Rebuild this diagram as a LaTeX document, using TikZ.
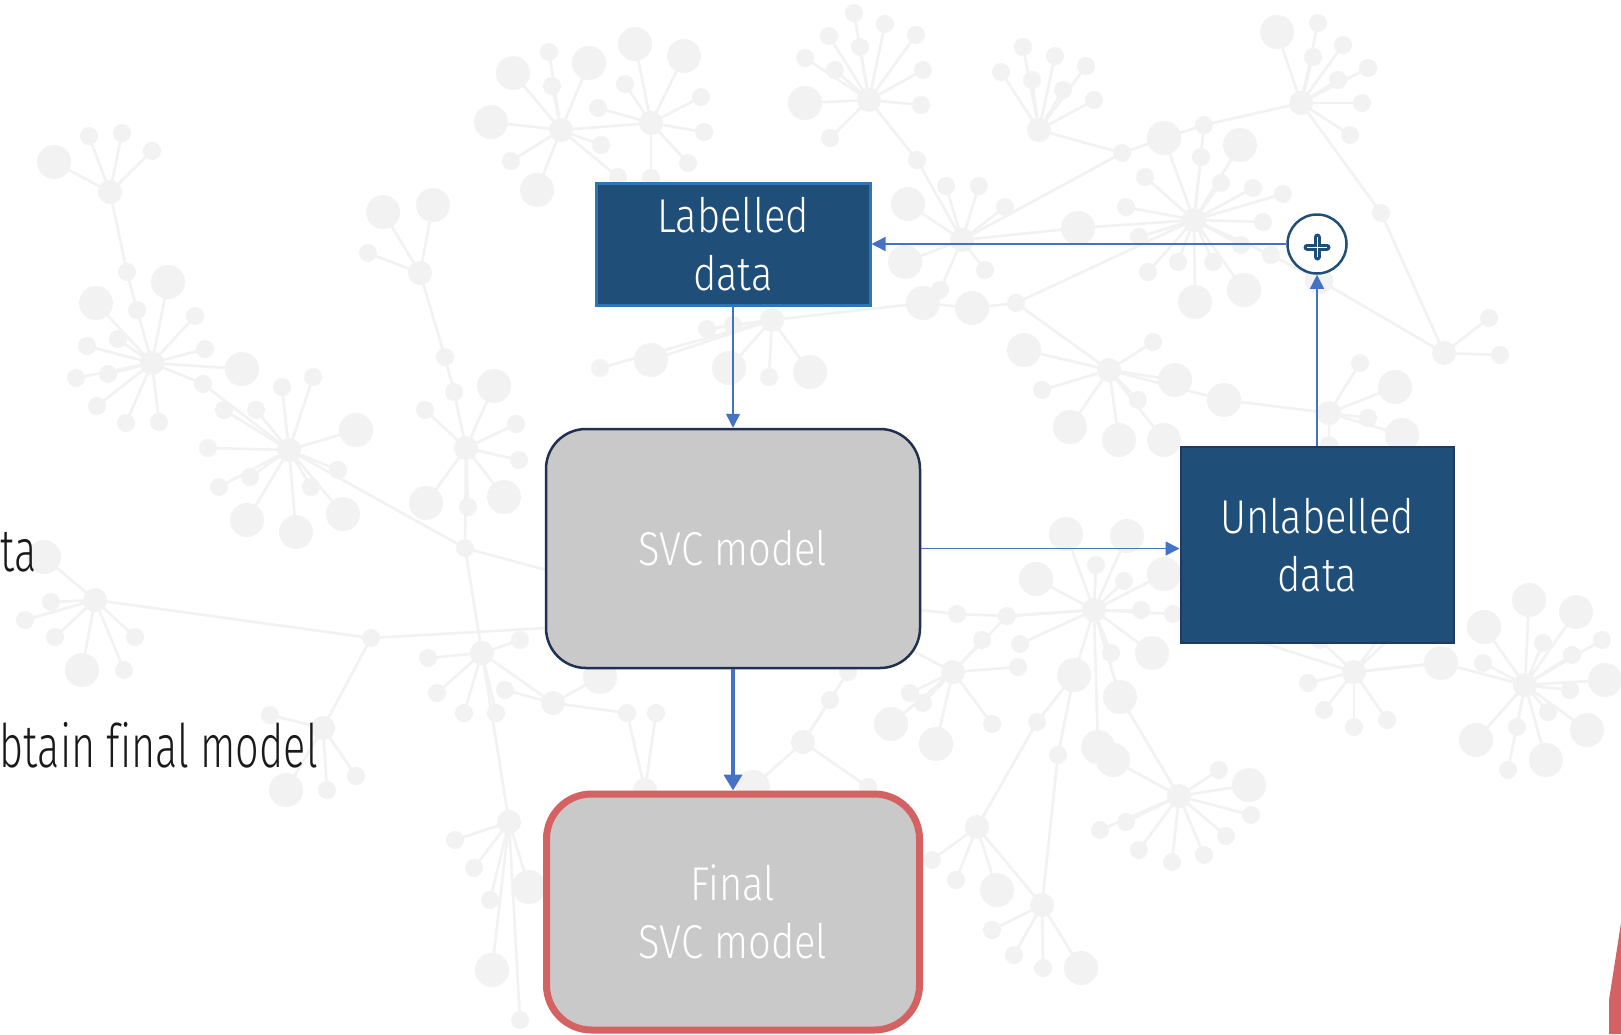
\documentclass[tikz,border=0pt]{standalone}
\usepackage{fontspec}
\setmainfont{Fira Sans Light}[FakeStretch=0.84]
\newfontfamily\narrowfamily{Fira Sans Light}[FakeStretch=0.69, Ligatures=NoCommon]
\usetikzlibrary{arrows.meta}

\definecolor{bggray}{HTML}{F2F2F2}
\definecolor{navyfill}{HTML}{1F4E79}
\definecolor{labborder}{HTML}{2E75B6}
\definecolor{unlborder}{HTML}{1F3864}
\definecolor{boxgray}{HTML}{C9C9C9}
\definecolor{svcborder}{HTML}{1F3050}
\definecolor{finalborder}{HTML}{D46262}
\definecolor{arrowblue}{HTML}{4472C4}
\definecolor{bodytext}{HTML}{1A1A1A}

\newcommand\boxfont{\fontsize{47.5}{58}\selectfont}
\newcommand\bodyfont{\narrowfamily\fontsize{60}{72}\selectfont}

% a hub of the network pattern with its spokes and end dots
\newcommand\bghub[2]{%
  \foreach \px/\py/\pr in {#2}{%
    \draw[bgline] (#1) -- (\px,\py);
    \fill[bgdot] (\px,\py) circle (\pr);
  }%
  \fill[bgdot] (#1) circle (12);
}
\newcommand\bgdots[1]{%
  \foreach \px/\py/\pr in {#1}{\fill[bgdot] (\px,\py) circle (\pr);}%
}

\tikzset{
  bgline/.style={draw=bggray, line width=2.6pt},
  bgdot/.style={fill=bggray},
  databox/.style={rectangle, fill=navyfill, text=white, inner sep=0pt,
    align=center, font=\boxfont},
  modelbox/.style={rectangle, fill=boxgray, text=white, inner sep=0pt,
    align=center, font=\boxfont},
  thinarrow/.style={draw=arrowblue, line width=1.4pt,
    -{Triangle[width=14pt,length=14pt]}, arrowblue},
  thickarrow/.style={draw=arrowblue, line width=4.5pt,
    -{Triangle[width=18pt,length=16pt]}, arrowblue},
  bodytextstyle/.style={text=bodytext, font=\bodyfont, inner sep=0pt, anchor=base east}
}

\begin{document}
\begin{tikzpicture}[x=1pt, y=-1pt]
\useasboundingbox (0,0) rectangle (1621,1034);
\clip (0,0) rectangle (1621,1034);
\fill[white] (0,0) rectangle (1621,1034);

% ---------- faint network pattern ----------
\draw[bgline] (110,192) -- (127,272) -- (137,310) -- (152,363) -- (203,384) -- (289,450) -- (465,548) -- (546,570);
\draw[bgline] (420,273) -- (445,357) -- (454,392) -- (466,448) -- (465,548) -- (482,653) -- (509,822);
\draw[bgline] (95,600) -- (371,638) -- (546,628);
\draw[bgline] (371,638) -- (323,728);
\draw[bgline] (561,130) -- (651,123);
\draw[bgline] (869,100) -- (917,160) -- (962,240);
\draw[bgline] (772,320) -- (923,303) -- (972,308) -- (1016,303) -- (1109,370);
\draw[bgline] (1016,303) -- (1194,220);
\draw[bgline] (962,240) -- (1122,153) -- (1164,138) -- (1204,125) -- (1301,103);
\draw[bgline] (1039,130) -- (1122,153);
\draw[bgline] (962,240) -- (1078,228);
\draw[bgline] (1301,103) -- (1381,213) -- (1444,353);
\draw[bgline] (1271,255) -- (1319,280) -- (1444,353);
\draw[bgline] (1224,400) -- (1329,413);
\draw[bgline] (920,610) -- (957,614) -- (1007,616) -- (1094,610);
\draw[bgline] (953,672) -- (1007,616);
\draw[bgline] (1094,610) -- (1120,697) -- (1179,796);
\draw[bgline] (1354,672) -- (1441,663) -- (1525,685);
\draw[bgline] (1354,672) -- (1173,614);
\draw[bgline] (977,827) -- (1042,905);
\draw[bgline] (1042,905) -- (1058,755) -- (1074,675);
\draw[bgline] (977,827) -- (1037,722) -- (1074,675);
\draw[bgline] (553,703) -- (482,653);
\draw[bgline] (803,742) -- (848,672) -- (890,600);
\bgdots{127/272/9, 137/310/9, 203/384/9, 445/357/9, 454/392/9, 465/548/9,
  371/638/9, 917/160/9, 923/303/17, 972/308/17, 1016/303/9, 1122/153/9,
  1381/213/9, 1319/280/14, 957/614/9, 1037/722/9, 1058/755/9, 848/672/9}

\bghub{110,192}{54/162/17, 89/136/9, 122/133/9, 152/151/9}
\bghub{152,363}{96/303/17, 168/282/17, 195/316/9, 205/349/9, 242/369/17, 87/346/9, 76/378/9, 97/406/9, 126/423/9, 159/422/9, 118/339/9, 108/374/9}
\bghub{289,450}{247/520/17, 296/532/17, 343/514/17, 356/430/17, 313/377/9, 282/387/9, 219/487/9, 250/477/9, 338/470/9, 208/448/9, 256/410/9, 224/410/9, 311/487/9}
\bghub{420,273}{383/212/17, 433/205/17, 368/253/9}
\bghub{466,448}{425/410/9, 494/386/17, 516/424/9, 519/460/9, 504/497/17, 468/507/9, 426/503/17}
\bghub{561,130}{513/73/17, 491/122/17, 511/161/9, 537/190/17, 552/86/9, 549/52/9, 589/63/17, 601/145/9, 618/177/9}
\bghub{651,123}{635/44/17, 684/56/17, 701/97/9, 704/132/9, 688/163/9, 651/178/9, 625/84/9, 598/108/9}
\bghub{869,100}{854/13/9, 885/24/9, 916/35/9, 923/70/9, 921/105/9, 830/138/9, 805/103/17, 805/58/9, 829/36/9, 860/47/9, 835/70/9}
\bghub{962,240}{908/204/17, 946/186/9, 979/186/9, 1005/207/9, 940/290/9, 905/262/17, 985/270/9}
\bghub{772,320}{707/329/9, 651/360/17, 600/368/9, 729/368/17, 769/377/9, 810/372/17, 733/325/9}
\bghub{1039,130}{1023/47/9, 1055/56/9, 1086/66/9, 1094/100/9, 1032/80/9, 1063/90/9, 1001/72/9}
\bghub{1194,220}{1164/138/17, 1204/125/9, 1240/145/17, 1201/157/9, 1221/183/9, 1253/188/9, 1283/194/9, 1263/222/9, 1241/245/9, 1271/255/9, 1244/290/17, 1213/262/9, 1195/302/17, 1178/262/9, 1148/272/9, 1139/237/9, 1126/207/9, 1145/177/9, 1078/228/17}
\bghub{1301,103}{1277/32/17, 1318/23/9, 1343/45/9, 1368/68/9, 1362/103/9, 1350/135/9, 1313/57/9, 1338/80/9}
\bghub{1444,353}{1489/318/9, 1500/355/9}
\bghub{1109,370}{1024/350/17, 1042/390/9, 1153/342/9, 1175/380/17, 1224/400/17, 1138/400/9, 1164/440/17, 1119/440/17, 1070/427/17}
\bghub{1329,413}{1360/363/9, 1395/387/17, 1368/418/9, 1402/435/17, 1329/445/9}
\bghub{1094,610}{1066/534/17, 1127/536/17, 1096/565/9, 1036/579/17, 1164/574/17, 1124/581/9, 1141/610/9, 1173/614/9, 1152/653/17, 1074/675/17, 1111/653/9, 1120/697/17, 1098/747/17, 1020/644/9, 1007/616/9}
\bghub{953,672}{891/724/17, 936/744/17, 923/703/9, 992/724/9, 1018/667/9, 982/640/9, 910/693/9, 894/641/9}
\bghub{1179,796}{1219/770/9, 1249/785/17, 1251/815/9, 1226/836/9, 1204/855/9, 1172/862/9, 1139/850/9, 1100/830/9, 1126/822/9, 1113/760/17}
\bghub{1354,672}{1308/683/9, 1324/710/9, 1354/727/9, 1387/720/9, 1399/630/9, 1441/663/17, 1402/607/9, 1320/640/9}
\bghub{1525,685}{1484/627/17, 1529/600/17, 1576/612/17, 1602/640/9, 1605/680/17, 1587/730/17, 1546/760/17, 1508/770/9, 1476/740/17, 1483/663/9, 1543/643/9, 1572/655/9, 1570/690/9, 1548/712/9, 1517/727/9}
\bghub{1042,905}{992/930/9, 1014/955/9, 1043/968/9, 1081/968/17}
\bghub{977,827}{956/880/9, 997/890/17, 932/860/9}
\bghub{95,600}{44/557/17, 51/602/9, 25/620/9, 55/637/9, 82/670/17, 135/637/9, 124/670/9}
\bghub{323,728}{270/715/9, 286/790/17, 327/790/9, 356/776/9}
\bghub{482,653}{428/658/9, 437/693/9, 464/713/9, 496/713/9, 520/640/9}
\bghub{509,822}{455/840/9, 474/868/9, 529/887/17, 490/900/9, 492/970/17, 520/1020/9}
\bghub{553,703}{600/677/17, 627/713/9, 505/690/9}
\bghub{803,742}{753/787/17, 830/700/9, 868/787/9}
\bghub{645,790}{627/713/9, 656/713/9}

% ---------- left-hand text, cut by the edge ----------
\node[bodytextstyle] (ta) at (37,571) {ta};
\node[bodytextstyle] (obtain) at (318,767) {btain final model};

% ---------- diagram ----------
\node[databox, draw=labborder, line width=3pt, minimum width=274pt, minimum height=122pt]
  (lab) at (733,244) {Labelled\\data};
\node[databox, draw=unlborder, line width=2pt, minimum width=273pt, minimum height=196pt]
  (unl) at (1317,545) {Unlabelled\\data};
\node[modelbox, draw=svcborder, line width=2.5pt, rounded corners=40pt,
  minimum width=374pt, minimum height=239pt] (svc) at (733,548.5) {SVC model};
\node[modelbox, draw=finalborder, line width=7pt, rounded corners=45pt,
  minimum width=373pt, minimum height=236pt] (final) at (733,912) {Final\\SVC model};

\node[circle, draw=navyfill, line width=2.5pt, fill=white, minimum size=59pt, inner sep=0pt]
  (plus) at (1317,244) {};
\coordinate (pc) at (1317,247);
\draw[navyfill, line width=7pt, line cap=round] (pc) ++(-10,0) -- ++(20,0);
\draw[navyfill, line width=7pt, line cap=round] (pc) ++(0,-10) -- ++(0,20);
\draw[white, line width=1pt] (pc) ++(-10,0) -- ++(20,0);
\draw[white, line width=1pt] (pc) ++(0,-10) -- ++(0,20);

% ---------- connectors ----------
\draw[thinarrow] (plus.west) -- (lab.east);
\draw[thinarrow] (unl.north) -- (plus.south);
\draw[thinarrow] (lab.south) -- (svc.north);
\draw[thinarrow] (svc.east) -- (unl.west |- svc.east);
\draw[thickarrow] (svc.south) -- (final.north);

% ---------- corner accent ----------
\fill[finalborder] (1621,923) -- (1609,1000) -- (1609,1034) -- (1621,1034) -- cycle;
\end{tikzpicture}
\end{document}
